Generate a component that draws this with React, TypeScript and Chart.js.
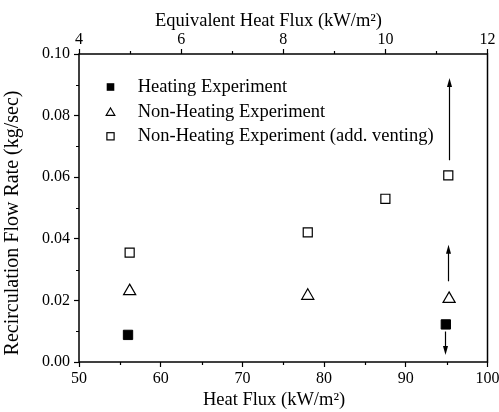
import React, { useEffect, useRef } from "react";
import { Chart, registerables } from "chart.js";

Chart.register(...registerables);

// ---- data ----
const heatingX = [56, 94.9];
const heatingY = [0.0088, 0.0122];
const nonHeatingX = [56.2, 78, 95.3];
const nonHeatingY = [0.023, 0.0215, 0.0205];
const ventingX = [56.2, 78, 87.5, 95.2];
const ventingY = [0.0355, 0.0421, 0.053, 0.0606];
const seriesLabels = [
  "Heating Experiment",
  "Non-Heating Experiment",
  "Non-Heating Experiment (add. venting)",
];

const arrowX = [94.8, 95.2, 95.3];
const arrowFromY = [0.0099, 0.0262, 0.0655];
const arrowToY = [0.0023, 0.0381, 0.0922];

const bottomTicks = [50, 60, 70, 80, 90, 100];
const bottomMinor = [55, 65, 75, 85, 95];
const topTicks = [4, 6, 8, 10, 12];
const topMinor = [5, 7, 9, 11];
const yTicks = [0, 0.02, 0.04, 0.06, 0.08, 0.1];
const yMinor = [0.01, 0.03, 0.05, 0.07, 0.09];

const xTitle = "Heat Flux (kW/m\u00B2)";
const topTitle = "Equivalent Heat Flux (kW/m\u00B2)";
const yTitle = "Recirculation Flow Rate (kg/sec)";

const FONT = "'Liberation Serif', 'Times New Roman', serif";

const zip = (xs: number[], ys: number[]) => xs.map((x, i) => ({ x, y: ys[i] }));

const decorPlugin = {
  id: "decor",
  afterDraw(chart: any) {
    const ctx = chart.ctx as CanvasRenderingContext2D;
    const a = chart.chartArea;
    const xs = chart.scales.x;
    const x2 = chart.scales.x2;
    const ys = chart.scales.y;
    ctx.save();
    ctx.strokeStyle = "#000";
    ctx.fillStyle = "#000";
    // frame
    ctx.lineWidth = 1.5;
    ctx.strokeRect(a.left, a.top, a.right - a.left, a.bottom - a.top);
    // minor ticks
    ctx.lineWidth = 1.2;
    ctx.beginPath();
    bottomMinor.forEach((v) => {
      const p = Math.round(xs.getPixelForValue(v)) + 0.5;
      ctx.moveTo(p, a.bottom);
      ctx.lineTo(p, a.bottom + 3);
    });
    topMinor.forEach((v) => {
      const p = Math.round(x2.getPixelForValue(v)) + 0.5;
      ctx.moveTo(p, a.top);
      ctx.lineTo(p, a.top - 3);
    });
    yMinor.forEach((v) => {
      const p = Math.round(ys.getPixelForValue(v)) + 0.5;
      ctx.moveTo(a.left, p);
      ctx.lineTo(a.left - 3, p);
    });
    ctx.stroke();
    // arrows
    arrowX.forEach((xv, i) => {
      const px = Math.round(xs.getPixelForValue(xv)) + 0.5;
      const p1 = ys.getPixelForValue(arrowFromY[i]);
      const p2 = ys.getPixelForValue(arrowToY[i]);
      const dir = p2 > p1 ? 1 : -1;
      ctx.lineWidth = 1.2;
      ctx.beginPath();
      ctx.moveTo(px, p1);
      ctx.lineTo(px, p2 - dir * 6);
      ctx.stroke();
      ctx.beginPath();
      ctx.moveTo(px, p2);
      ctx.lineTo(px - 2.5, p2 - dir * 9);
      ctx.lineTo(px + 2.5, p2 - dir * 9);
      ctx.closePath();
      ctx.fill();
    });
    // legend
    const lx = 110.5;
    const tx = 137.7;
    const rows = [87, 112, 136.3];
    ctx.font = `18.5px ${FONT}`;
    ctx.textBaseline = "middle";
    ctx.textAlign = "left";
    rows.forEach((ry, i) => {
      ctx.lineWidth = 1.2;
      if (i === 0) {
        ctx.fillRect(lx - 3.8, ry - 3.8, 7.6, 7.6);
      } else if (i === 1) {
        ctx.beginPath();
        ctx.moveTo(lx, ry - 4);
        ctx.lineTo(lx + 4.3, ry + 3.3);
        ctx.lineTo(lx - 4.3, ry + 3.3);
        ctx.closePath();
        ctx.stroke();
      } else {
        ctx.strokeRect(lx - 3.6, ry - 3.6, 7.2, 7.2);
      }
      ctx.fillText(seriesLabels[i], tx, ry);
    });
    // titles
    ctx.textAlign = "center";
    ctx.fillText(xTitle, 274, 400);
    ctx.fillText(topTitle, 268.5, 21);
    ctx.save();
    ctx.font = `20px ${FONT}`;
    ctx.translate(13, 223);
    ctx.rotate(-Math.PI / 2);
    ctx.fillText(yTitle, 0, 0);
    ctx.restore();
    ctx.restore();
  },
};

const gridCfg = {
  drawOnChartArea: false,
  drawTicks: true,
  tickLength: 5,
  tickColor: "#000",
  tickWidth: 1.2,
};

export default function App() {
  const ref = useRef<HTMLCanvasElement | null>(null);
  useEffect(() => {
    if (!ref.current) return;
    const chart = new Chart(ref.current, {
      type: "scatter",
      data: {
        datasets: [
          {
            label: seriesLabels[0],
            data: zip(heatingX, heatingY),
            pointStyle: "rect",
            pointRadius: 6.6,
            backgroundColor: "#000",
            borderColor: "#000",
            borderWidth: 1,
          },
          {
            label: seriesLabels[1],
            data: zip(nonHeatingX, nonHeatingY),
            pointStyle: "triangle",
            pointRadius: 7,
            backgroundColor: "#fff",
            borderColor: "#000",
            borderWidth: 1.2,
          },
          {
            label: seriesLabels[2],
            data: zip(ventingX, ventingY),
            pointStyle: "rect",
            pointRadius: 6.4,
            backgroundColor: "#fff",
            borderColor: "#000",
            borderWidth: 1.2,
          },
        ],
      },
      options: {
        animation: false,
        responsive: false,
        devicePixelRatio: 1,
        layout: { padding: { left: 0, right: 11.5, top: 0, bottom: 0 } },
        plugins: { legend: { display: false }, tooltip: { enabled: false } },
        scales: {
          x: {
            type: "linear",
            position: "bottom",
            min: 50,
            max: 100,
            afterBuildTicks: (s: any) => {
              s.ticks = bottomTicks.map((v) => ({ value: v }));
            },
            afterFit: (s: any) => {
              s.height = 50;
              s.paddingLeft = 0;
              s.paddingRight = 0;
            },
            grid: gridCfg,
            border: { display: false },
            ticks: {
              color: "#000",
              padding: 2,
              maxRotation: 0,
              font: { size: 16, family: FONT },
              callback: (v: any) => String(v),
            },
          },
          x2: {
            type: "linear",
            position: "top",
            min: 4,
            max: 12,
            afterBuildTicks: (s: any) => {
              s.ticks = topTicks.map((v) => ({ value: v }));
            },
            afterFit: (s: any) => {
              s.height = 54;
              s.paddingLeft = 0;
              s.paddingRight = 0;
            },
            grid: gridCfg,
            border: { display: false },
            ticks: {
              color: "#000",
              padding: 0,
              maxRotation: 0,
              font: { size: 16, family: FONT },
              callback: (v: any) => String(v),
            },
          },
          y: {
            type: "linear",
            position: "left",
            min: 0,
            max: 0.1,
            afterBuildTicks: (s: any) => {
              s.ticks = yTicks.map((v) => ({ value: v }));
            },
            afterFit: (s: any) => {
              s.width = 79;
            },
            grid: gridCfg,
            border: { display: false },
            ticks: {
              color: "#000",
              padding: 4,
              font: { size: 16, family: FONT },
              callback: (v: any) => Number(v).toFixed(2),
            },
          },
        },
      },
      plugins: [decorPlugin],
    } as any);
    return () => chart.destroy();
  }, []);
  return (
    <div style={{ position: "absolute", left: 0, top: 0, width: 499, height: 412, background: "#fff" }}>
      <canvas ref={ref} width={499} height={412} style={{ display: "block" }} />
    </div>
  );
}
